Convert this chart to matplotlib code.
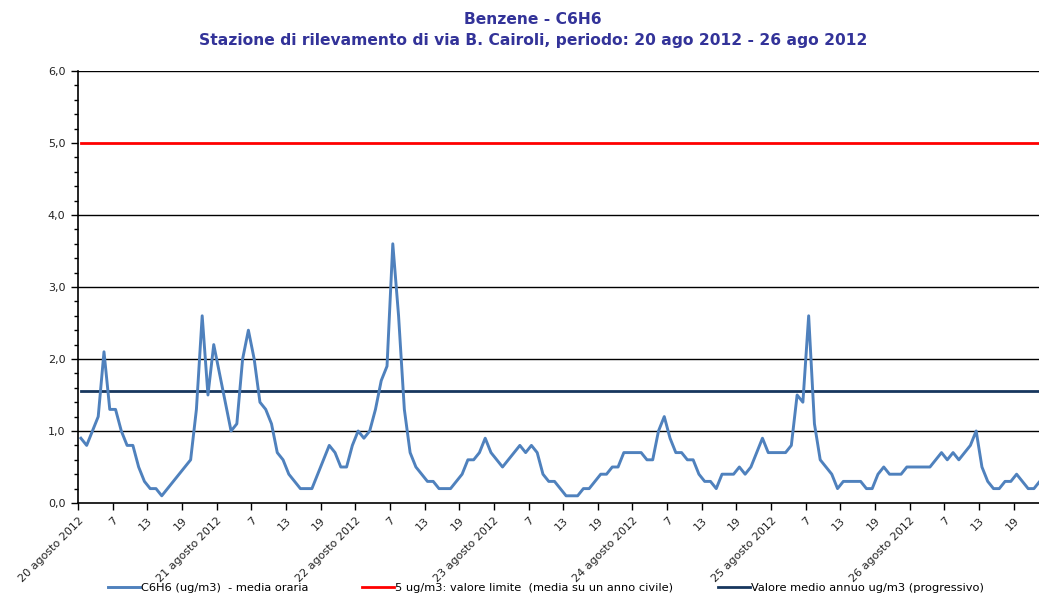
import numpy as np
import matplotlib
matplotlib.use("Agg")
import matplotlib.pyplot as plt
from matplotlib.lines import Line2D
from matplotlib.ticker import MultipleLocator, FixedLocator

# ---------------- data ----------------
c6h6 = [
    0.9, 0.8, 1.0, 1.2, 2.1, 1.3, 1.3, 1.0, 0.8, 0.8, 0.5, 0.3, 0.2, 0.2, 0.1, 0.2, 0.3, 0.4, 0.5, 0.6, 1.3, 2.6, 1.5, 2.2,
    1.8, 1.4, 1.0, 1.1, 2.0, 2.4, 2.0, 1.4, 1.3, 1.1, 0.7, 0.6, 0.4, 0.3, 0.2, 0.2, 0.2, 0.4, 0.6, 0.8, 0.7, 0.5, 0.5, 0.8,
    1.0, 0.9, 1.0, 1.3, 1.7, 1.9, 3.6, 2.6, 1.3, 0.7, 0.5, 0.4, 0.3, 0.3, 0.2, 0.2, 0.2, 0.3, 0.4, 0.6, 0.6, 0.7, 0.9, 0.7,
    0.6, 0.5, 0.6, 0.7, 0.8, 0.7, 0.8, 0.7, 0.4, 0.3, 0.3, 0.2, 0.1, 0.1, 0.1, 0.2, 0.2, 0.3, 0.4, 0.4, 0.5, 0.5, 0.7, 0.7,
    0.7, 0.7, 0.6, 0.6, 1.0, 1.2, 0.9, 0.7, 0.7, 0.6, 0.6, 0.4, 0.3, 0.3, 0.2, 0.4, 0.4, 0.4, 0.5, 0.4, 0.5, 0.7, 0.9, 0.7,
    0.7, 0.7, 0.7, 0.8, 1.5, 1.4, 2.6, 1.1, 0.6, 0.5, 0.4, 0.2, 0.3, 0.3, 0.3, 0.3, 0.2, 0.2, 0.4, 0.5, 0.4, 0.4, 0.4, 0.5,
    0.5, 0.5, 0.5, 0.5, 0.6, 0.7, 0.6, 0.7, 0.6, 0.7, 0.8, 1.0, 0.5, 0.3, 0.2, 0.2, 0.3, 0.3, 0.4, 0.3, 0.2, 0.2, 0.3, 0.3,
]
limit_value = 5.0
annual_mean = 1.55
days = [20, 21, 22, 23, 24, 25, 26]
month_label = "agosto 2012"
hour_labels = ["7", "13", "19"]
y_ticks = [0, 1, 2, 3, 4, 5, 6]
y_tick_labels = ["0,0", "1,0", "2,0", "3,0", "4,0", "5,0", "6,0"]

title_line1 = "Benzene - C6H6"
title_line2 = "Stazione di rilevamento di via B. Cairoli, periodo: 20 ago 2012 - 26 ago 2012"
legend_labels = [
    "C6H6 (ug/m3)  - media oraria",
    "5 ug/m3: valore limite  (media su un anno civile)",
    "Valore medio annuo ug/m3 (progressivo)",
]

# ---------------- figure ----------------
W, H = 1039, 596
fig = plt.figure(figsize=(W / 100, H / 100), dpi=100)
ax_left, ax_right, ax_top, ax_bot = 78, 1039, 71, 503
ax = fig.add_axes([ax_left / W, 1 - ax_bot / H, (ax_right - ax_left) / W, (ax_bot - ax_top) / H])

n = len(c6h6)
x = np.arange(n) + 0.5

blue = "#4F81BD"
navy = "#17375E"
red = "#FF0000"

# horizontal grid lines
for yv in y_ticks:
    if yv in (0, 5):
        continue
    ax.axhline(yv, color="black", lw=1.0, zorder=1)

ax.plot(x, [limit_value] * n, color=red, lw=2.0, zorder=2)
ax.plot(x, [annual_mean] * n, color=navy, lw=2.0, zorder=2)
ax.plot(x, c6h6, color=blue, lw=2.1, zorder=3, solid_joinstyle="round")

ax.set_xlim(0, (ax_right - ax_left) / 5.776)
ax.set_ylim(0, 6)

# y axis
ax.set_yticks(y_ticks)
ax.set_yticklabels(y_tick_labels, fontsize=8, color="#222222")
ax.yaxis.set_minor_locator(MultipleLocator(0.2))
ax.tick_params(axis="y", which="major", length=5, width=1, direction="out", pad=4)
ax.tick_params(axis="y", which="minor", length=3, width=1, direction="out")

# x axis
tick_pos = []
tick_lab = []
for d_i, d in enumerate(days):
    base = d_i * 24
    tick_pos.append(base)
    tick_lab.append(f"{d} {month_label}")
    for j, hl in enumerate(hour_labels):
        tick_pos.append(base + 6 * (j + 1))
        tick_lab.append(hl)
ax.xaxis.set_major_locator(FixedLocator(tick_pos))
ax.set_xticklabels(tick_lab, rotation=45, ha="right", va="top", rotation_mode="anchor",
                   fontsize=8, color="#222222")
ax.tick_params(axis="x", which="major", length=5, width=1, direction="out", pad=4)

for s in ("top", "right"):
    ax.spines[s].set_visible(False)
ax.spines["left"].set_linewidth(1.2)
ax.spines["bottom"].set_linewidth(1.2)

# title
title_color = "#333399"
fig.text(533 / W, 1 - 19 / H, title_line1, ha="center", va="center", fontsize=11.2,
         fontweight="bold", color=title_color, family="DejaVu Sans")
fig.text(533 / W, 1 - 41 / H, title_line2, ha="center", va="center", fontsize=11.2,
         fontweight="bold", color=title_color, family="DejaVu Sans")

# legend (three entries at their positions)
handles = [Line2D([], [], color=blue, lw=2.1),
           Line2D([], [], color=red, lw=2.0),
           Line2D([], [], color=navy, lw=2.0)]
starts = [108, 362, 718]
for h, lab, xs in zip(handles, legend_labels, starts):
    fig.legend([h], [lab], loc="center left", bbox_to_anchor=(xs / W, 1 - 588 / H),
               frameon=False, fontsize=8.2, handlelength=2.8, handletextpad=0.1,
               borderaxespad=0, borderpad=0)

fig.savefig("out.png", dpi=100)
